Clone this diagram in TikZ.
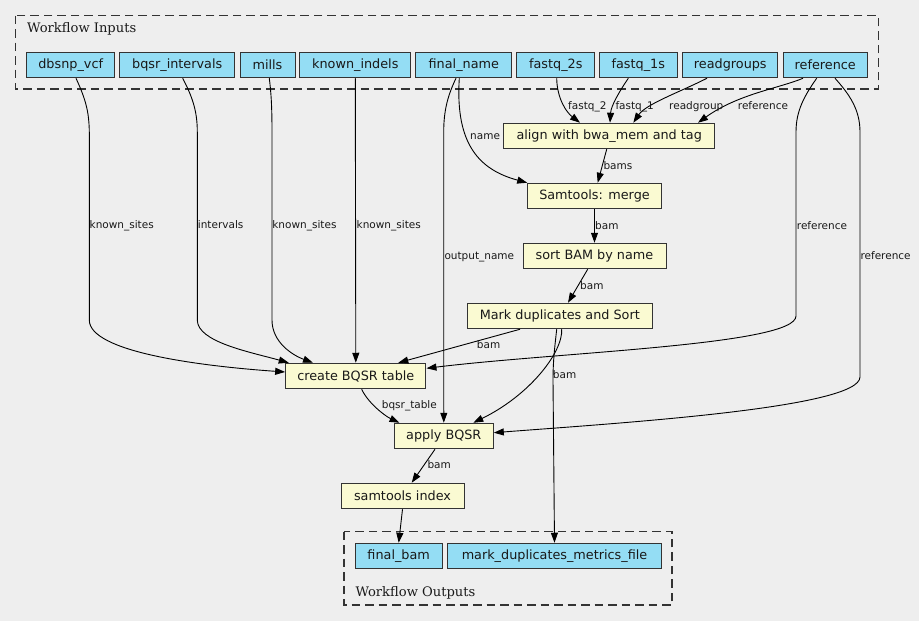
\documentclass[tikz,border=0pt]{standalone}
\usepackage{fontspec}
\newfontfamily\nodefont{DejaVu Sans}
\newfontfamily\clusterfont{DejaVu Serif}
\usetikzlibrary{arrows.meta,calc}
\definecolor{bg}{HTML}{EEEEEE}
\definecolor{iofill}{HTML}{94DDF4}
\definecolor{stepfill}{HTML}{FAFAD2}
\definecolor{boxline}{HTML}{333333}
\begin{document}
\begin{tikzpicture}[x=1pt,y=-1pt,
  basebox/.style={draw=boxline, line width=1pt, inner sep=0pt, minimum height=25.5pt,
    font=\nodefont\fontsize{12.8}{14}\selectfont, text=black!90},
  iobox/.style={basebox, fill=iofill},
  stepbox/.style={basebox, fill=stepfill},
  cluster/.style={draw=boxline, line width=1.1pt, dash pattern=on 8.5pt off 5pt},
  clabel/.style={font=\clusterfont\fontsize{13.1}{15}\selectfont, anchor=base west, inner sep=0pt, text=black!90},
  elabel/.style={font=\nodefont\fontsize{10.5}{12}\selectfont, anchor=base west, inner sep=0pt, text=black!90},
  edge/.style={draw=black, line width=0.9pt, -{Triangle[length=10pt,width=7pt]}},
]
\fill[bg] (0,0) rectangle (919,621);
\useasboundingbox (0,0) rectangle (919,621);

% clusters
\draw[cluster] (15.7,15.7) rectangle (878.7,89);
\node[clabel] (inlabel) at (27,32.3) {Workflow Inputs};
\draw[cluster] (344,531.7) rectangle (672,605);
\node[clabel] (outlabel) at (355.3,596) {Workflow Outputs};

% inputs
\node[iobox, minimum width=88pt]   (dbsnp)      at (70.7,65)  {dbsnp\_vcf};
\node[iobox, minimum width=115pt]  (bqsr)       at (177.2,65) {bqsr\_intervals};
\node[iobox, minimum width=55pt]   (mills)      at (267.5,65) {mills};
\node[iobox, minimum width=110.7pt](known)      at (355.3,65) {known\_indels};
\node[iobox, minimum width=95.7pt] (finalname)  at (463.8,65) {final\_name};
\node[iobox, minimum width=77.7pt] (fastqtwo)   at (555.8,65) {fastq\_2s};
\node[iobox, minimum width=78pt]   (fastqone)   at (638.3,65) {fastq\_1s};
\node[iobox, minimum width=95.3pt] (readgroups) at (730.3,65) {readgroups};
\node[iobox, minimum width=84pt]   (reference)  at (825.3,65) {reference};

% steps
\node[stepbox, minimum width=211pt]   (align)   at (609.2,136) {align with bwa\_mem and tag};
\node[stepbox, minimum width=133.6pt] (merge)   at (594.5,196) {Samtools: merge};
\node[stepbox, minimum width=143pt]   (sort)    at (594.5,256) {sort BAM by name};
\node[stepbox, minimum width=185pt]   (markdup) at (559.8,316) {Mark duplicates and Sort};
\node[stepbox, minimum width=140.3pt] (create)  at (355.8,376) {create BQSR table};
\node[stepbox, minimum width=99pt]    (apply)   at (443.8,436) {apply BQSR};
\node[stepbox, minimum width=123pt]   (index)   at (402.5,496) {samtools index};

% outputs
\node[iobox, minimum width=87.3pt]  (finalbam) at (398.7,556) {final\_bam};
\node[iobox, minimum width=213.6pt] (metrics)  at (554.5,556) {mark\_duplicates\_metrics\_file};

% edges from inputs
\draw[edge] ([xshift=5.3pt]dbsnp.south) .. controls (86,100) and (89,112) .. (89.3,132)
  -- (89.3,320) .. controls (89.3,352) and (200,366) .. ([yshift=4pt]create.west);
\draw[edge] ([xshift=5.5pt]bqsr.south) .. controls (193,98) and (197.3,112) .. (197.3,132)
  -- (197.3,320) .. controls (197.3,342) and (250,352) .. ([xshift=3.6pt]create.north west);
\draw[edge] ([xshift=1.8pt]mills.south) .. controls (271,92) and (272,105) .. (272,132)
  -- (272,320) .. controls (272,342) and (292,355) .. ([xshift=-42.8pt]create.north);
\draw[edge] (known.south) -- (create.north);
\draw[edge] ([xshift=-7.8pt]finalname.south) .. controls (448,95) and (443.7,110) .. (443.7,132)
  -- (apply.north);
\draw[edge] ([xshift=-4.5pt]finalname.south) .. controls (455,145) and (480,170) .. (merge.north west);
\draw[edge] ([xshift=0.9pt]fastqtwo.south) .. controls (557,98) and (566,112) .. ([xshift=-29.2pt]align.north);
\draw[edge] ([xshift=-10pt]fastqone.south) .. controls (619,92) and (611,106) .. ([xshift=0.8pt]align.north);
\draw[edge] ([xshift=-23.3pt]readgroups.south) .. controls (680,92) and (646,104) .. ([xshift=24.1pt]align.north);
\draw[edge] ([xshift=-22.3pt]reference.south) .. controls (780,88) and (738,94) .. ([xshift=88.8pt]align.north);
\draw[edge] ([xshift=-8.6pt]reference.south) .. controls (805,95) and (796,110) .. (796,132)
  -- (796,316) .. controls (796,345) and (560,352) .. ([yshift=7.7pt]create.east);
\draw[edge] ([xshift=9.7pt]reference.south) .. controls (850,95) and (860,110) .. (860,132)
  -- (860,377) .. controls (860,408) and (620,423) .. ([yshift=3.3pt]apply.east);

% step edges
\draw[edge] ([xshift=-2.5pt]align.south) -- ([xshift=3.2pt]merge.north);
\draw[edge] (merge.south) -- (sort.north);
\draw[edge] ([xshift=-6.8pt]sort.south) -- ([xshift=8.2pt]markdup.north);
\draw[edge] ([xshift=-39.8pt]markdup.south) -- ([xshift=42.5pt]create.north);
\draw[edge] ([xshift=1.9pt]markdup.south) .. controls (563,352) and (530,395) .. ([xshift=29.5pt]apply.north);
\draw[edge] ([xshift=-3.1pt]markdup.south) .. controls (555,345) and (553,360) .. (553,380) -- (metrics.north);
\draw[edge] ([xshift=5.9pt]create.south) .. controls (368,403) and (385,416) .. ([xshift=5.7pt]apply.north west);
\draw[edge] ([xshift=-8.8pt]apply.south) -- ([xshift=9.2pt]index.north);
\draw[edge] (index.south) -- (finalbam.north);

% edge labels
\node[elabel] (l1)  at (89.5,228.7)  {known\_sites};
\node[elabel] (l2)  at (197.7,228.7) {intervals};
\node[elabel] (l3)  at (272.2,228.7) {known\_sites};
\node[elabel] (l4)  at (356.5,228.7) {known\_sites};
\node[elabel] (l5)  at (444.3,259)   {output\_name};
\node[elabel] (l6)  at (470,139)     {name};
\node[elabel] (l7)  at (568,109)     {fastq\_2};
\node[elabel] (l8)  at (615.3,109)   {fastq\_1};
\node[elabel] (l9)  at (669,109)     {readgroup};
\node[elabel] (l10) at (737.7,109)   {reference};
\node[elabel] (l11) at (603.3,169)   {bams};
\node[elabel] (l12) at (595,229)     {bam};
\node[elabel] (l13) at (580,289)     {bam};
\node[elabel] (l14) at (796.7,229)   {reference};
\node[elabel] (l15) at (860.3,259)   {reference};
\node[elabel] (l16) at (476.7,348.3) {bam};
\node[elabel] (l17) at (552.7,378.7) {bam};
\node[elabel] (l18) at (381.7,408.7) {bqsr\_table};
\node[elabel] (l19) at (427.3,468.7) {bam};
\end{tikzpicture}
\end{document}
